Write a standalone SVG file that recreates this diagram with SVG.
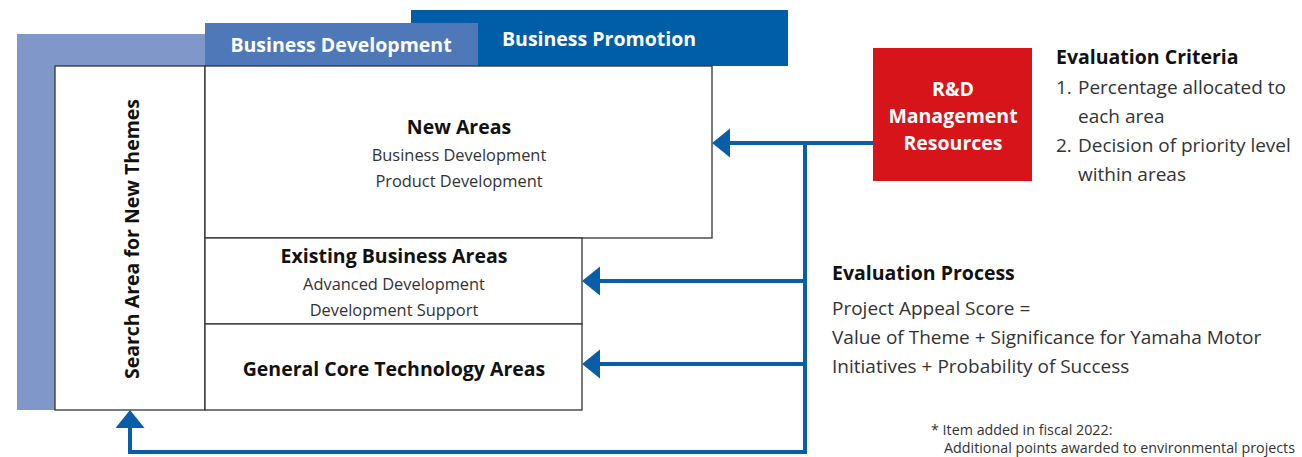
<svg xmlns="http://www.w3.org/2000/svg" width="1302" height="457" viewBox="0 0 1302 457">
<style>
text{font-family:"Open Sans","Noto Sans","Liberation Sans",sans-serif}
.hb{font-weight:bold;fill:#fff;font-size:19.5px}
.b{font-weight:bold;fill:#111;font-size:19.5px}
.s{fill:#333;font-size:16.4px}
.t{fill:#333;font-size:19px}
.f{fill:#333;font-size:14.3px}
.box{fill:#fff;stroke:#333;stroke-width:1.3}
.c{fill:none;stroke:#0A5EA8;stroke-width:4}
.ah{fill:#0A5EA8}
</style>
<defs>
<polygon id="al" points="0,0 18,-14.5 18,14.5"/>
</defs>
<g id="search-bg"><rect x="17" y="34" width="190" height="376" fill="#8098C9"/></g>
<g id="business-promotion"><rect x="411" y="10" width="377" height="56" fill="#005EA8"/><text class="hb" x="599" y="46" text-anchor="middle">Business Promotion</text></g>
<g id="business-development"><rect x="205" y="23" width="273" height="43" fill="#4F78B8"/><text class="hb" x="341" y="52" text-anchor="middle">Business Development</text></g>
<g id="search-area"><rect class="box" x="55" y="66" width="150" height="344"/><text class="b" transform="translate(139,239) rotate(-90)" text-anchor="middle">Search Area for New Themes</text></g>
<g id="new-areas"><rect class="box" x="205" y="66" width="507" height="172"/><text class="b" x="459" y="134" text-anchor="middle">New Areas</text><text class="s" x="459" y="161" text-anchor="middle">Business Development</text><text class="s" x="459" y="187" text-anchor="middle">Product Development</text></g>
<g id="existing-areas"><rect class="box" x="205" y="238" width="377" height="86"/><text class="b" x="394" y="263" text-anchor="middle">Existing Business Areas</text><text class="s" x="394" y="290" text-anchor="middle">Advanced Development</text><text class="s" x="394" y="316" text-anchor="middle">Development Support</text></g>
<g id="core-areas"><rect class="box" x="205" y="324" width="377" height="86"/><text class="b" x="394" y="376" text-anchor="middle">General Core Technology Areas</text></g>
<g id="connectors">
<path class="c" d="M873,143 H728"/>
<path class="c" d="M805,143 V452 H130 V425"/>
<path class="c" d="M805,281 H598"/>
<path class="c" d="M805,364 H598"/>
<use href="#al" class="ah" transform="translate(712,143)"/>
<use href="#al" class="ah" transform="translate(582,281)"/>
<use href="#al" class="ah" transform="translate(582,364)"/>
<use href="#al" class="ah" transform="translate(130,410) rotate(90)"/>
</g>
<g id="rd"><rect x="873" y="48" width="159" height="133" fill="#D7141A"/><text class="hb" x="953" y="96" text-anchor="middle">R&amp;D</text><text class="hb" x="953" y="123" text-anchor="middle">Management</text><text class="hb" x="953" y="150" text-anchor="middle">Resources</text></g>
<g id="criteria"><text class="b" x="1056" y="64">Evaluation Criteria</text><text class="t" x="1056" y="94">1.</text><text class="t" x="1078" y="94">Percentage allocated to</text><text class="t" x="1078" y="123">each area</text><text class="t" x="1056" y="152">2.</text><text class="t" x="1078" y="152">Decision of priority level</text><text class="t" x="1078" y="181">within areas</text></g>
<g id="process"><text class="b" x="832" y="280">Evaluation Process</text><text class="t" x="832" y="315">Project Appeal Score =</text><text class="t" x="832" y="344">Value of Theme + Significance for Yamaha Motor</text><text class="t" x="832" y="373">Initiatives + Probability of Success</text></g>
<g id="note"><text class="f" x="931" y="435">* Item added in fiscal 2022:</text><text class="f" x="944" y="453">Additional points awarded to environmental projects</text></g>
</svg>
